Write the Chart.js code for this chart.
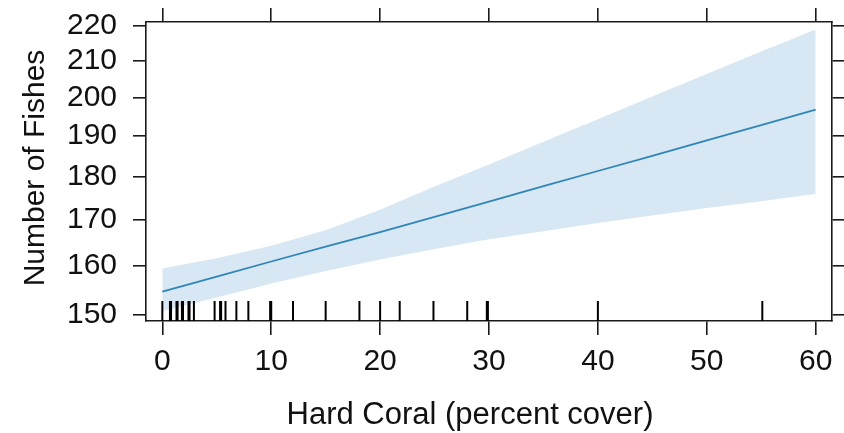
<!DOCTYPE html>
<html>
<head>
<meta charset="utf-8">
<script src="https://cdn.jsdelivr.net/npm/chart.js@4/dist/chart.umd.min.js"></script>
<style>
  html, body { margin: 0; padding: 0; background: #fff; }
  #wrap { width: 844px; height: 433px; }
</style>
</head>
<body>
<div id="wrap"><canvas id="grafico" width="844" height="433"></canvas></div>
<script>
// valores
const cobertura = [0, 5, 10, 15, 20, 25, 30, 35, 40, 45, 50, 55, 60];
const peixesAjuste = [154.6, 157.7, 160.9, 164.1, 167.3, 170.7, 174.2, 177.8, 181.4, 185.1, 188.9, 192.8, 196.8];
const peixesSuperior = [159.4, 161.6, 164.3, 167.7, 172.3, 177.7, 183.0, 188.6, 194.3, 200.2, 206.3, 212.5, 218.8];
const peixesInferior = [150.7, 153.4, 156.3, 158.9, 161.3, 163.6, 165.7, 167.5, 169.3, 171.0, 172.7, 174.3, 176.0];
const rugCobertura = [0, 0.7, 0.8, 1.3, 1.4, 1.8, 1.9, 2.4, 2.5, 2.9, 4.8, 5.3, 5.4, 5.8, 6.8, 7.9,
  9.9, 10.0, 12.0, 15.0, 18.1, 20.0, 21.8, 24.9, 28.0, 29.8, 29.9, 40.0, 55.1];
const ticksX = [0, 10, 20, 30, 40, 50, 60];
const ticksY = [150, 160, 170, 180, 190, 200, 210, 220];

const tituloX = "Hard Coral (percent cover)";
const tituloY = "Number of Fishes";

const fonte = '"Liberation Sans", Arial, sans-serif';
const corEixo = '#1a1a1a';

const pts = ys => cobertura.map((x, i) => ({ x: x, y: ys[i] }));

// rug na base do painel
const rugPlugin = {
  id: 'rug',
  afterDatasetsDraw(chart) {
    const ctx = chart.ctx;
    const xs = chart.scales.x;
    const base = chart.chartArea.bottom;
    ctx.save();
    ctx.strokeStyle = '#000';
    ctx.lineWidth = 2;
    rugCobertura.forEach(v => {
      const px = xs.getPixelForValue(v);
      ctx.beginPath();
      ctx.moveTo(px, base - 20);
      ctx.lineTo(px, base);
      ctx.stroke();
    });
    ctx.restore();
  }
};

// títulos dos eixos
const titulosPlugin = {
  id: 'titulos',
  afterDraw(chart) {
    const ctx = chart.ctx;
    ctx.save();
    ctx.fillStyle = '#111';
    ctx.textAlign = 'center';
    ctx.textBaseline = 'alphabetic';
    ctx.font = '31px ' + fonte;
    ctx.fillText(tituloX, 470, 424);
    ctx.translate(44, 168);
    ctx.rotate(-Math.PI / 2);
    ctx.font = '30px ' + fonte;
    ctx.fillText(tituloY, 0, 0);
    ctx.restore();
  }
};

function semPadding(s) {
  s.paddingTop = 0; s.paddingBottom = 0; s.paddingLeft = 0; s.paddingRight = 0;
}

function eixoX(pos, tamanho, comRotulo) {
  return {
    type: 'linear', position: pos, min: -1.5, max: 61.5,
    afterBuildTicks: s => { s.ticks = ticksX.map(v => ({ value: v })); },
    afterFit: s => { s.height = tamanho; semPadding(s); },
    grid: { drawOnChartArea: false, drawTicks: true, tickLength: 14, color: corEixo, lineWidth: 1.6 },
    border: { display: true, color: corEixo, width: 1.6 },
    ticks: { display: comRotulo, padding: 9, color: '#111', font: { family: fonte, size: 30 }, maxRotation: 0,
      callback: v => String(v) }
  };
}

function eixoY(pos, tamanho, comRotulo) {
  return {
    type: 'logarithmic', position: pos, min: 148.7, max: 221.0,
    afterBuildTicks: s => { s.ticks = ticksY.map(v => ({ value: v })); },
    afterFit: s => { s.width = tamanho; semPadding(s); },
    grid: { drawOnChartArea: false, drawTicks: true, tickLength: 13, color: corEixo, lineWidth: 1.6 },
    border: { display: true, color: corEixo, width: 1.6 },
    ticks: { display: comRotulo, padding: 16, color: '#111', font: { family: fonte, size: 30 },
      callback: v => String(v) }
  };
}

new Chart(document.getElementById('grafico').getContext('2d'), {
  type: 'line',
  data: {
    datasets: [
      {
        label: 'ajuste',
        data: pts(peixesAjuste),
        borderColor: '#2f86b6',
        borderWidth: 1.8,
        pointRadius: 0,
        fill: false,
        order: 0,
        xAxisID: 'x', yAxisID: 'y'
      },
      {
        label: 'superior',
        data: pts(peixesSuperior),
        borderWidth: 0,
        pointRadius: 0,
        backgroundColor: '#d7e7f3',
        fill: '+1',
        order: 1,
        xAxisID: 'x', yAxisID: 'y'
      },
      {
        label: 'inferior',
        data: pts(peixesInferior),
        borderWidth: 0,
        pointRadius: 0,
        fill: false,
        order: 2,
        xAxisID: 'x', yAxisID: 'y'
      }
    ]
  },
  options: {
    responsive: false,
    animation: false,
    layout: { padding: 0 },
    plugins: { legend: { display: false }, tooltip: { enabled: false } },
    scales: {
      x: eixoX('bottom', 112, true),
      x2: eixoX('top', 22, false),
      y: eixoY('left', 146, true),
      y2: eixoY('right', 12, false)
    }
  },
  plugins: [rugPlugin, titulosPlugin]
});
</script>
</body>
</html>
